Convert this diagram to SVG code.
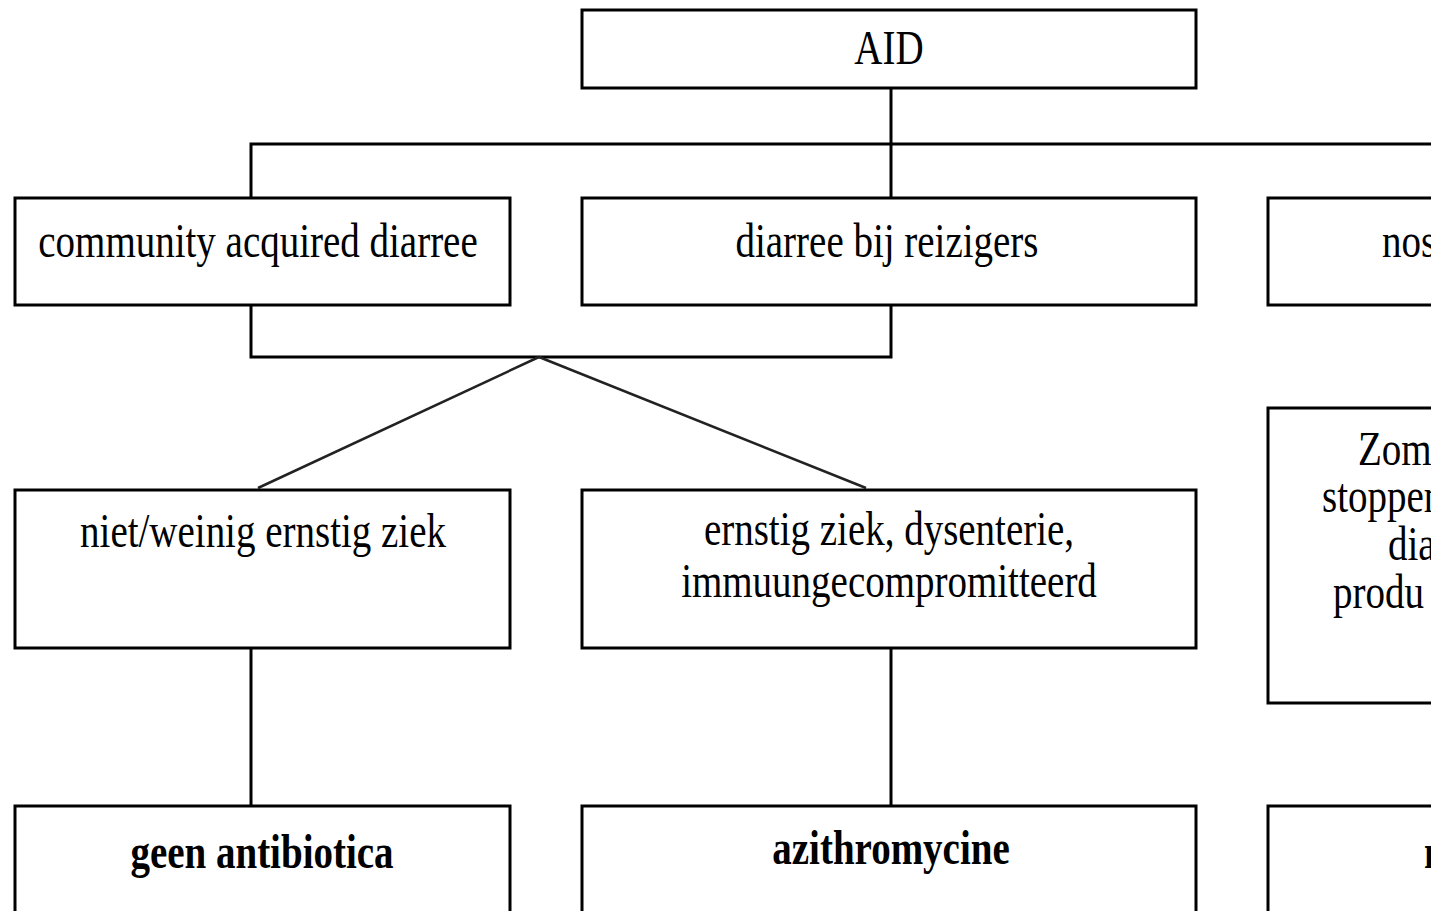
<svg xmlns="http://www.w3.org/2000/svg" width="1431" height="911" viewBox="0 0 1431 911">
<style>
.box{fill:#fff;stroke:#000;stroke-width:3}
.ln{fill:none;stroke:#000;stroke-width:3}
.dg{fill:none;stroke:#222;stroke-width:2.5}
.t{font-family:"Liberation Serif","Times New Roman",serif;font-size:39px;fill:#000}
.c{text-anchor:middle}
.b{font-weight:bold}
</style>
<rect width="1431" height="911" fill="#fff"/>
<g id="connectors">
<path class="ln" d="M891 88 V198"/>
<path class="ln" d="M251 198 V144 H1440"/>
<path class="ln" d="M251 305 V357 H891 V305"/>
<path class="dg" d="M539 357 L258 488"/>
<path class="dg" d="M539 357 L866 488"/>
<path class="ln" d="M251 648 V806"/>
<path class="ln" d="M891 648 V806"/>
</g>
<g id="n-aid">
<rect class="box" x="582" y="10" width="614" height="78"/>
<text class="t c" transform="translate(889,64) scale(1,1.25)">AID</text>
</g>
<g id="n-community">
<rect class="box" x="15" y="198" width="495" height="107"/>
<text class="t c" transform="translate(258,257) scale(1,1.25)">community acquired diarree</text>
</g>
<g id="n-reizigers">
<rect class="box" x="582" y="198" width="614" height="107"/>
<text class="t c" transform="translate(887,257) scale(1,1.25)">diarree bij reizigers</text>
</g>
<g id="n-nos">
<rect class="box" x="1268" y="198" width="200" height="107"/>
<text class="t" transform="translate(1382,257) scale(1,1.25)">nos</text>
</g>
<g id="n-niet">
<rect class="box" x="15" y="490" width="495" height="158"/>
<text class="t c" transform="translate(263,547) scale(1,1.25)">niet/weinig ernstig ziek</text>
</g>
<g id="n-ernstig">
<rect class="box" x="582" y="490" width="614" height="158"/>
<text class="t c" transform="translate(889,545) scale(1,1.25)">ernstig ziek, dysenterie,</text>
<text class="t c" transform="translate(889,597) scale(1,1.25)">immuungecompromitteerd</text>
</g>
<g id="n-zom">
<rect class="box" x="1268" y="408" width="200" height="295"/>
<text class="t" transform="translate(1358,465) scale(1,1.25)">Zom</text>
<text class="t" transform="translate(1322,512) scale(1,1.25)">stoppen</text>
<text class="t" transform="translate(1388,560) scale(1,1.25)">dia</text>
<text class="t" transform="translate(1333,608) scale(1,1.25)">produ</text>
</g>
<g id="n-geen">
<rect class="box" x="15" y="806" width="495" height="130"/>
<text class="t c b" transform="translate(262,868) scale(1,1.25)">geen antibiotica</text>
</g>
<g id="n-azithro">
<rect class="box" x="582" y="806" width="614" height="130"/>
<text class="t c b" transform="translate(891,864) scale(1,1.25)">azithromycine</text>
</g>
<g id="n-right-bottom">
<rect class="box" x="1268" y="806" width="200" height="130"/>
<text class="t b" transform="translate(1424,868) scale(1,1.25)">n</text>
</g>
</svg>
